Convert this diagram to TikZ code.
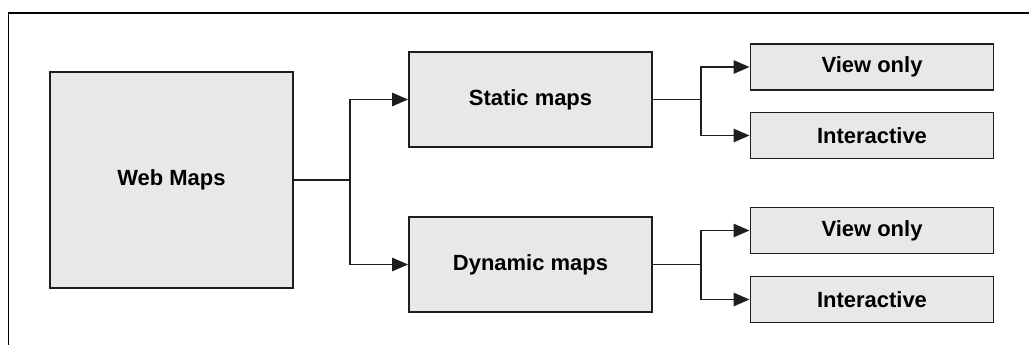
\documentclass[tikz,border=0pt]{standalone}
\usepackage{fontspec}
\setmainfont{Liberation Sans}
\usetikzlibrary{arrows.meta}
\definecolor{boxgray}{HTML}{E8E8E8}
\definecolor{edgegray}{HTML}{1E1E1E}

\begin{document}
\begin{tikzpicture}[>={Triangle[length=9pt,width=7.5pt]},
  mapbox/.style={draw=edgegray,fill=boxgray,line width=1.1pt,inner sep=0pt,
    minimum width=4.86cm,font=\fontsize{12.5}{15}\selectfont\bfseries},
  link/.style={edgegray,line width=1.1pt}]
\useasboundingbox (0,0) rectangle (20.58,-6.9);
\draw[black,line width=1.1pt] (0.17,-6.9) -- (0.17,-0.26) -- (20.58,-0.26);
\node[mapbox,minimum height=4.32cm] (web) at(3.43,-3.6){Web Maps};
\node[mapbox,minimum height=1.9cm] (static) at(10.61,-1.99){Static maps};
\node[mapbox,minimum height=1.9cm] (dynamic) at(10.61,-5.29){Dynamic maps};
\node[mapbox,minimum height=0.92cm] (sview) at(17.44,-1.34){View only};
\node[mapbox,minimum height=0.92cm] (sinter) at(17.44,-2.71){Interactive};
\node[mapbox,minimum height=0.92cm] (dview) at(17.44,-4.61){View only};
\node[mapbox,minimum height=0.92cm] (dinter) at(17.44,-5.99){Interactive};
\coordinate (webfork) at(7.0,-3.6);
\coordinate (staticfork) at(14.02,-1.99);
\coordinate (dynamicfork) at(14.02,-5.29);
\draw[link] (web.east) -- (webfork);
\draw[link,->] (webfork) |- (static.west);
\draw[link,->] (webfork) |- (dynamic.west);
\draw[link] (static.east) -- (staticfork);
\draw[link,->] (staticfork) |- (sview.west);
\draw[link,->] (staticfork) |- (sinter.west);
\draw[link] (dynamic.east) -- (dynamicfork);
\draw[link,->] (dynamicfork) |- (dview.west);
\draw[link,->] (dynamicfork) |- (dinter.west);
\end{tikzpicture}
\end{document}
